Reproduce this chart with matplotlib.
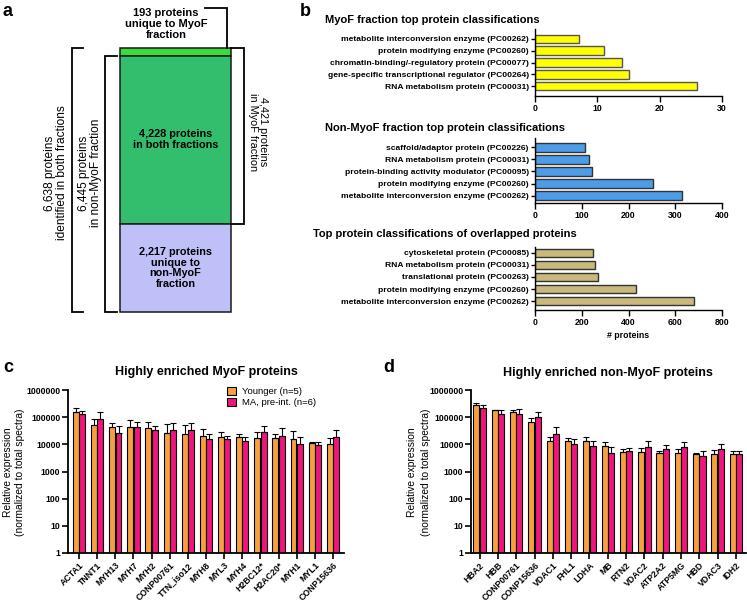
import matplotlib
matplotlib.use('Agg')
import matplotlib.pyplot as plt
import numpy as np
from matplotlib.ticker import NullLocator

W, H = 747, 604
plt.rcParams['font.family'] = ['Liberation Sans', 'DejaVu Sans']

# ---------------- data ----------------
a_counts = [193, 4228, 2217]
a_labels = ['193 proteins\nunique to MyoF\nfraction',
            '4,228 proteins\nin both fractions',
            '2,217 proteins\nunique to\nnon-MyoF\nfraction']
a_colors = ['#3ADB3A', '#33BE6E', '#BFC0F8']

b1_cats = ['metabolite interconversion enzyme (PC00262)',
           'protein modifying enzyme (PC00260)',
           'chromatin-binding/-regulatory protein (PC00077)',
           'gene-specific transcriptional regulator (PC00264)',
           'RNA metabolism protein (PC00031)']
b1_vals = [7, 11, 14, 15, 26]
b2_cats = ['scaffold/adaptor protein (PC00226)',
           'RNA metabolism protein (PC00031)',
           'protein-binding activity modulator (PC00095)',
           'protein modifying enzyme (PC00260)',
           'metabolite interconversion enzyme (PC00262)']
b2_vals = [107, 116, 121, 253, 315]
b3_cats = ['cytoskeletal protein (PC00085)',
           'RNA metabolism protein (PC00031)',
           'translational protein (PC00263)',
           'protein modifying enzyme (PC00260)',
           'metabolite interconversion enzyme (PC00262)']
b3_vals = [247, 258, 268, 431, 680]

c_cats = ['ACTA1', 'TNNT1', 'MYH13', 'MYH7', 'MYH2', 'CONP00761', 'TTN_iso12', 'MYH8',
          'MYL3', 'MYH4', 'H2BC12*', 'H2AC20*', 'MYH1', 'MYL1', 'CONP15636']
c_young = [150000, 51000, 42000, 42000, 40000, 27000, 25000, 19500, 18500, 18000,
           16500, 16500, 15500, 11000, 10500]
c_young_sd = [67000, 32000, 17000, 34000, 24000, 29000, 25000, 16000, 9000, 7000,
              13000, 8500, 16500, 1300, 6500]
c_ma = [126000, 83000, 27000, 43000, 32500, 33500, 33500, 16000, 15500, 13000,
        28000, 20000, 10300, 9300, 18500]
c_ma_sd = [36000, 67000, 19000, 23000, 15500, 28500, 28500, 8000, 4500, 6000,
           19000, 20000, 7700, 3000, 14500]

d_cats = ['HBA2', 'HBB', 'CONP00761', 'CONP15636', 'VDAC1', 'FHL1', 'LDHA', 'MB', 'RTN2',
          'VDAC2', 'ATP2A2', 'ATP5MG', 'HBD', 'VDAC3', 'IDH2']
d_young = [270000, 177000, 153000, 69000, 13700, 13300, 12800, 9000, 5400, 5400,
           5000, 4900, 4300, 4300, 4300]
d_young_sd = [50000, 13000, 24000, 21000, 4600, 3700, 5500, 3200, 1500, 1700,
              900, 1600, 600, 2000, 1500]
d_ma = [215000, 133000, 130000, 98000, 25000, 10600, 8500, 5000, 5500, 8200,
        6700, 7700, 3700, 6900, 4300]
d_ma_sd = [70000, 44000, 70000, 60000, 18000, 5400, 5200, 2800, 1600, 4800,
           3000, 4800, 1800, 3600, 1500]

y_ticks = [1, 10, 100, 1000, 10000, 100000, 1000000]
y_ticklabels = ['1', '10', '100', '1000', '10000', '100000', '1000000']
series_names = ['Younger (n=5)', 'MA, pre-int. (n=6)']
series_colors = ['#F8A040', '#F0157C']

# ---------------- figure ----------------
fig = plt.figure(figsize=(W / 100, H / 100), dpi=100)


def px_axes(x0, y0, x1, y1):
    return fig.add_axes([x0 / W, 1 - y1 / H, (x1 - x0) / W, (y1 - y0) / H])


def ftext(x, y, s, **kw):
    return fig.text(x / W, 1 - y / H, s, **kw)


# panel letters
for lx, ly, l in [(3, 16, 'a'), (300, 16, 'b'), (3, 372, 'c'), (383, 372, 'd')]:
    ftext(lx, ly, l, fontsize=13, fontweight='bold', va='baseline')

# ---------------- panel a ----------------
bar_top, bar_bot = 48, 312
axa = px_axes(120, bar_top, 231, bar_bot)
total = sum(a_counts)
axa.set_xlim(0, 1)
axa.set_ylim(total, 0)
axa.axis('off')
bottoms = np.concatenate([[0], np.cumsum(a_counts)[:-1]])
for cnt, b, col in zip(a_counts, bottoms, a_colors):
    axa.bar(0.5, cnt, width=1, bottom=b, color=col, edgecolor='#1a1a1a', lw=1.1,
            clip_on=False)
for i in (1, 2):
    axa.text(0.5, bottoms[i] + a_counts[i] / 2, a_labels[i], ha='center', va='center',
             fontsize=7.8, fontweight='bold', linespacing=1.1)

px_per_unit = (bar_bot - bar_top) / total


def ydat(py):
    return (py - bar_top) / px_per_unit


def xdat(px):
    return (px - 120) / 111.0


def bracket(xv, xarm, y0, y1):
    axa.plot([xarm, xv, xv, xarm], [y0, y0, y1, y1], color='black', lw=1.3,
             clip_on=False, solid_joinstyle='miter')


myof_total = a_counts[0] + a_counts[1]
bracket(xdat(72), xdat(83), 0, total)
bracket(xdat(105), xdat(117), a_counts[0], total)
bracket(xdat(244), 1.0, 0, myof_total)
axa.plot([xdat(205), xdat(227), xdat(227)], [ydat(8), ydat(8), 0], color='black',
         lw=1.3, clip_on=False, solid_joinstyle='miter')

ftext(166, 24, a_labels[0], ha='center', va='center', fontsize=8, fontweight='bold',
      linespacing=1.1)
ftext(56, 173, f'{total:,} proteins\nidentified in both fractions', ha='center',
      va='center', rotation=90, fontsize=8.6, linespacing=1.1)
ftext(90, 173, f'{a_counts[1] + a_counts[2]:,} proteins\nin non-MyoF fraction',
      ha='center', va='center', rotation=90, fontsize=8.6, linespacing=1.1)
ftext(258, 132, f'{myof_total:,} proteins\nin MyoF fraction', ha='center', va='center',
      rotation=-90, fontsize=7.8, linespacing=1.1)

# ---------------- panel b ----------------
b_specs = [
    (b1_cats, b1_vals, '#FFFF00', '#555555', (29, 96), (-0.85, 4.85), [0, 10, 20, 30],
     'MyoF fraction top protein classifications', 325, 20),
    (b2_cats, b2_vals, '#4D9CE8', '#333333', (138, 203), (-0.78, 4.62),
     [0, 100, 200, 300, 400], 'Non-MyoF fraction top protein classifications', 325, 128),
    (b3_cats, b3_vals, '#C9B97C', '#333333', (247, 310), (-0.5, 4.75),
     [0, 200, 400, 600, 800], 'Top protein classifications of overlapped proteins', 313, 234),
]
for cats, vals, col, ecol, (y0, y1), (yt, yb), xt, title, tx, ty in b_specs:
    ax = px_axes(535, y0, 722, y1)
    pos = np.arange(len(cats))
    ax.barh(pos, vals, height=0.74, color=col, edgecolor=ecol, lw=1.0)
    ax.set_ylim(yb, yt)
    ax.set_xlim(xt[0], xt[-1])
    ax.set_yticks(pos)
    ax.set_yticklabels(cats, fontsize=6.1, fontweight='bold')
    ax.set_xticks(xt)
    ax.set_xticklabels([str(v) for v in xt], fontsize=6.3, fontweight='bold')
    for s in ('top', 'right'):
        ax.spines[s].set_visible(False)
    for s in ('left', 'bottom'):
        ax.spines[s].set_linewidth(1.0)
    ax.tick_params(axis='y', length=3, width=1.0, pad=1.5)
    ax.tick_params(axis='x', length=4, width=1.0, pad=1.5)
    ftext(tx, ty, title, ha='left', va='center', fontsize=8, fontweight='bold')
    last_ax = ax
last_ax.set_xlabel('# proteins', fontsize=6.3, fontweight='bold', labelpad=3)

# ---------------- panels c, d ----------------
w = 0.33
off = 0.175


def grouped(ax, cats, y1, s1, y2, s2, xlim):
    x = np.arange(len(cats))
    for xs, vals, sd, col in [(x - off, y1, s1, series_colors[0]),
                              (x + off, y2, s2, series_colors[1])]:
        ax.bar(xs, vals, width=w, color=col, edgecolor='black', lw=0.8, zorder=2)
        ax.errorbar(xs, vals, yerr=[np.zeros(len(vals)), sd], fmt='none', ecolor='black',
                    elinewidth=0.8, capsize=2, capthick=0.8, zorder=3)
    ax.set_yscale('log')
    ax.set_ylim(1, 1e6)
    ax.set_xlim(*xlim)
    ax.set_yticks(y_ticks)
    ax.set_yticklabels(y_ticklabels, fontsize=6.3, fontweight='bold')
    ax.yaxis.set_minor_locator(NullLocator())
    ax.set_xticks(x)
    ax.set_xticklabels(cats, rotation=45, ha='right', rotation_mode='anchor',
                       fontsize=6.3, fontweight='bold')
    for s in ('top', 'right'):
        ax.spines[s].set_visible(False)
    for s in ('left', 'bottom'):
        ax.spines[s].set_linewidth(1.3)
    ax.tick_params(axis='y', length=4, width=1.2, pad=1.5)
    ax.tick_params(axis='x', length=4, width=1.2, pad=1.5)


axc = px_axes(68, 390, 344, 553)
grouped(axc, c_cats, c_young, c_young_sd, c_ma, c_ma_sd, (-0.61, 14.61))
ftext(206, 372, 'Highly enriched MyoF proteins', ha='center', va='center', fontsize=9,
      fontweight='bold')
ftext(8, 472, 'Relative expression', rotation=90, ha='center', va='center', fontsize=7.4)
ftext(20, 472, '(normalized to total spectra)', rotation=90, ha='center', va='center',
      fontsize=7.4)
handles = [plt.Rectangle((0, 0), 1, 1, facecolor=c, edgecolor='black', lw=0.8)
           for c in series_colors]
axc.legend(handles, series_names, loc='upper left', bbox_to_anchor=(0.575, 1.02),
           frameon=False, fontsize=6.8, handlelength=1.0, handleheight=0.9,
           handletextpad=0.6, borderpad=0, borderaxespad=0, labelspacing=0.25)

axd = px_axes(471, 390, 746, 553)
grouped(axd, d_cats, d_young, d_young_sd, d_ma, d_ma_sd, (-0.47, 14.55))
ftext(608, 373, 'Highly enriched non-MyoF proteins', ha='center', va='center',
      fontsize=9, fontweight='bold')
ftext(412, 472, 'Relative expression', rotation=90, ha='center', va='center', fontsize=7.4)
ftext(426, 472, '(normalized to total spectra)', rotation=90, ha='center', va='center',
      fontsize=7.4)

fig.savefig('out.png', dpi=100)
